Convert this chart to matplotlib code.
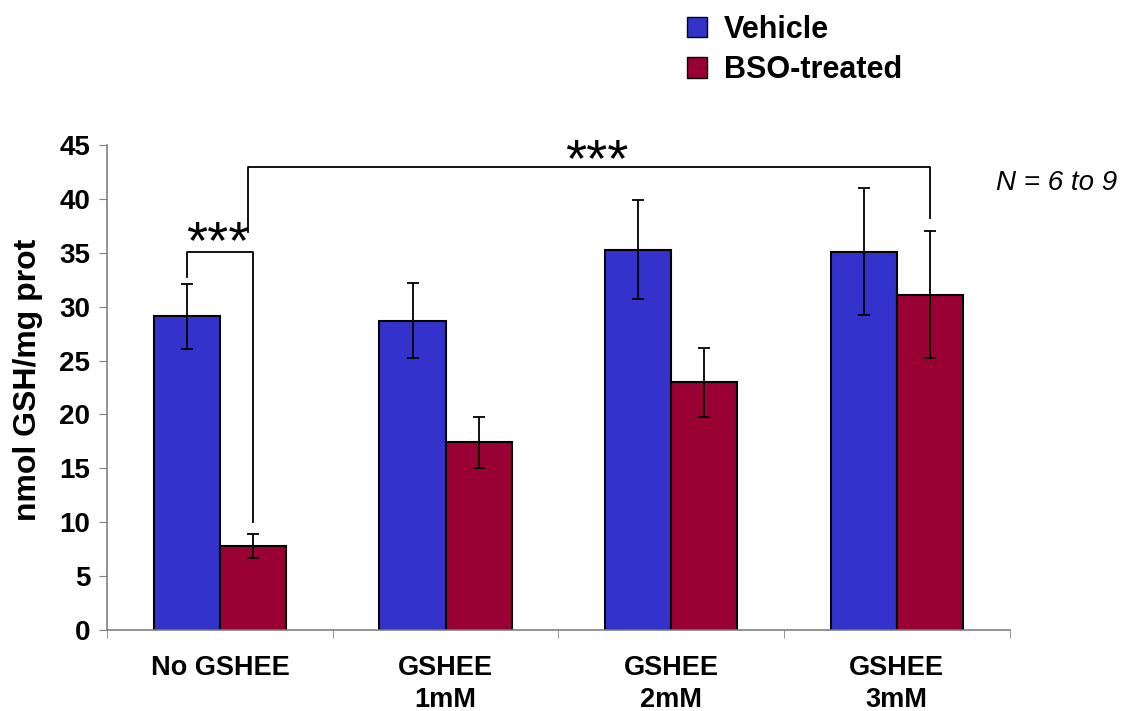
import numpy as np
from matplotlib import pyplot as plt
from matplotlib.patches import Patch


groups = ['No GSHEE', 'GSHEE\n1mM', 'GSHEE\n2mM', 'GSHEE\n3mM']
vehicle = [29.1, 28.7, 35.3, 35.1]
vehicle_err = [3.0, 3.5, 4.6, 5.9]
bso = [7.8, 17.4, 23.0, 31.1]
bso_err = [1.1, 2.4, 3.2, 5.9]
series_names = ['Vehicle', 'BSO-treated']

blue = '#3333cc'
red = '#990033'

plt.rcParams['font.family'] = ['Liberation Sans', 'DejaVu Sans']

fig = plt.figure(figsize=[11.28, 7.11], dpi=100)
ax = fig.add_axes([0.095, 0.114, 0.8, 0.682])

x = np.arange(len(groups))
w = 0.293
err_kw = dict(ecolor='black', elinewidth=1.3, capsize=4.5, capthick=1.3)
ax.bar(x - w/2, vehicle, w, yerr=vehicle_err, color=blue, edgecolor='black',
       linewidth=1.5, error_kw=err_kw)
ax.bar(x + w/2, bso, w, yerr=bso_err, color=red, edgecolor='black',
       linewidth=1.5, error_kw=err_kw)

ax.set_xlim(-0.5, 3.5)
ax.set_ylim(0, 45)
ax.set_yticks(range(0, 46, 5))
ax.set_xticks(x)
ax.set_xticklabels(groups, fontsize=19.5, fontweight='bold', linespacing=1.3)
ax.set_xticks(np.arange(-0.5, 4, 1), minor=True)
ax.tick_params(axis='x', which='major', length=0, pad=18)
ax.tick_params(axis='x', which='minor', length=6, color='#808080')
ax.tick_params(axis='y', length=6, color='#808080', labelsize=20, pad=6)
for lbl in ax.get_yticklabels():
    lbl.set_fontweight('bold')
ax.set_ylabel('nmol GSH/mg prot', fontsize=23, fontweight='bold')
ax.yaxis.set_label_coords(-0.071, 0.515)

for s in ['top', 'right']:
    ax.spines[s].set_visible(False)
for s in ['left', 'bottom']:
    ax.spines[s].set_color('#808080')
    ax.spines[s].set_linewidth(1.2)

# significance brackets
ax.plot([-w/2, -w/2, w/2, w/2], [32.8, 35.1, 35.1, 10.0], color='black', lw=1.3)
ax.text(-0.01, 34.5, '***', ha='center', va='baseline', fontsize=39)
ax.plot([0.125, 0.125, 3.146, 3.146], [36.9, 43.0, 43.0, 38.2], color='black', lw=1.3)
ax.text(1.67, 42.1, '***', ha='center', va='baseline', fontsize=39)

fig.text(0.883, 0.742, 'N = 6 to 9', fontsize=20, style='italic', ha='left', va='center')

handles = [Patch(facecolor=blue, edgecolor='black'), Patch(facecolor=red, edgecolor='black')]
fig.legend(handles, series_names, loc='upper left', bbox_to_anchor=(0.585, 1.018),
           frameon=False, prop={'weight': 'bold', 'size': 22},
           handlelength=0.65, handleheight=0.65, handletextpad=0.55, labelspacing=0.35)

plt.savefig('out.png', dpi=100)
plt.close()
